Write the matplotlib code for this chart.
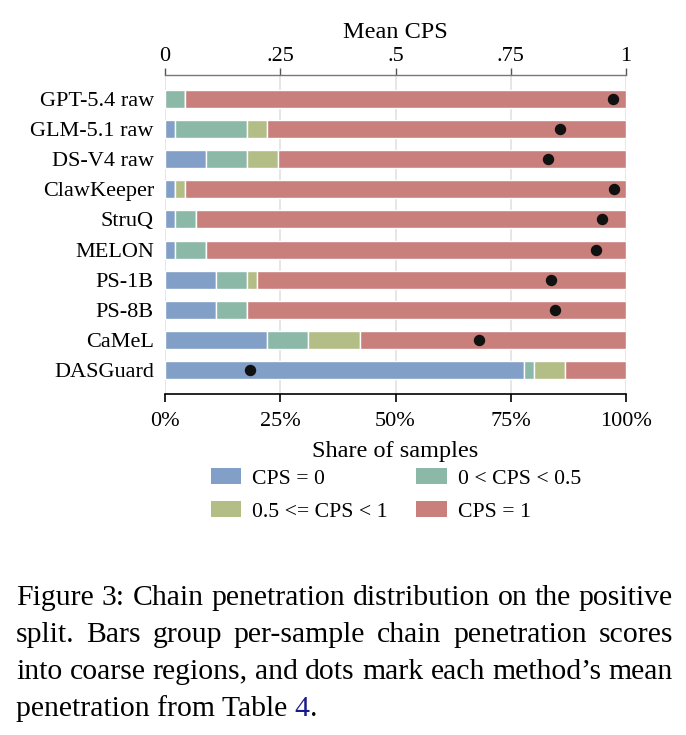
import numpy as np
import matplotlib
matplotlib.use("Agg")
import matplotlib.pyplot as plt
from matplotlib.patches import Patch

plt.rcParams['font.family'] = ['Liberation Serif', 'DejaVu Serif']
plt.rcParams['mathtext.fontset'] = 'stix'

methods = ["GPT-5.4 raw", "GLM-5.1 raw", "DS-V4 raw", "ClawKeeper", "StruQ",
           "MELON", "PS-1B", "PS-8B", "CaMeL", "DASGuard"]
n_samples = 45
cps_zero = [0, 1, 4, 1, 1, 1, 5, 5, 10, 35]
cps_low = [2, 7, 4, 0, 2, 3, 3, 3, 4, 1]
cps_high = [0, 2, 3, 1, 0, 0, 1, 0, 5, 3]
cps_one = [43, 35, 34, 43, 42, 41, 36, 37, 26, 6]
mean_cps = [0.971, 0.857, 0.830, 0.973, 0.949, 0.934, 0.838, 0.845, 0.681, 0.184]

series_labels = ["CPS = 0", "0 < CPS < 0.5", "0.5 <= CPS < 1", "CPS = 1"]
colors = ["#819fc7", "#8cb8a8", "#b3bd86", "#c9807d"]

W, H = 686, 735
AX_TOP, AX_BOT = 75, 394
fig = plt.figure(figsize=(W / 100, H / 100), dpi=100)
ax = fig.add_axes([165 / W, 1 - AX_BOT / H, 461 / W, (AX_BOT - AX_TOP) / H])
ax_h = AX_BOT - AX_TOP

y = np.arange(len(methods))
left = np.zeros(len(methods))
for vals, c in zip([cps_zero, cps_low, cps_high, cps_one], colors):
    frac = np.array(vals) / n_samples
    ax.barh(y, frac, left=left, height=0.6, color=c, edgecolor="white",
            linewidth=1.0, zorder=2)
    left += frac

ax.set_xlim(0, 1)
ax.set_ylim(9.8, -0.8)
ax.set_yticks(y)
ax.set_yticklabels(methods, fontsize=16)
ax.tick_params(axis='y', length=0, pad=8)
ax.set_xticks([0, 0.25, 0.5, 0.75, 1.0])
ax.set_xticklabels(["0%", "25%", "50%", "75%", "100%"], fontsize=16)
ax.tick_params(axis='x', direction='out', length=6, width=1.2, color='black', pad=7)
ax.set_xlabel("Share of samples", fontsize=17.5, va='center')
ax.xaxis.set_label_coords(0.5, -(452 - AX_BOT) / ax_h)
for s in ["left", "right", "top"]:
    ax.spines[s].set_visible(False)
ax.spines["bottom"].set_linewidth(1.2)
ax.grid(axis='x', color='#e6e6e6', linewidth=1.4, zorder=0)
ax.set_axisbelow(True)

ax2 = ax.twiny()
ax2.set_xlim(0, 1)
ax2.scatter(mean_cps, y, s=52, color='#111111', zorder=5)
ax2.set_xticks([0, 0.25, 0.5, 0.75, 1.0])
ax2.set_xticklabels(["0", ".25", ".5", ".75", "1"], fontsize=16)
ax2.tick_params(axis='x', direction='out', length=5, width=1.0, color='#555555', pad=1.5)
ax2.set_xlabel("Mean CPS", fontsize=17.5, va='center')
ax2.xaxis.set_label_coords(0.5, 1 + (AX_TOP - 33) / ax_h)
for s in ["left", "right", "bottom"]:
    ax2.spines[s].set_visible(False)
ax2.spines["top"].set_color('#777777')
ax2.spines["top"].set_linewidth(1.0)

# legend: row-wise order (matplotlib fills columns first)
order = [0, 2, 1, 3]
handles = [Patch(facecolor=colors[i], edgecolor='none') for i in order]
labels = [series_labels[i] for i in order]
fig.legend(handles, labels, ncol=2, frameon=False, fontsize=15.7,
           loc='center', bbox_to_anchor=(396 / W, 1 - 495 / H),
           handlelength=1.4, handleheight=0.75, handletextpad=0.5,
           columnspacing=1.3, labelspacing=0.55)

# caption
cap_lines = [
    "Figure 3: Chain penetration distribution on the positive",
    "split.  Bars group per-sample chain penetration scores",
    "into coarse regions, and dots mark each method\u2019s mean",
]
x0, x1 = 16, 673
line_y = [598, 635, 672, 709]
fig.canvas.draw()
renderer = fig.canvas.get_renderer()
probe = fig.text(0, 0, cap_lines[0], fontsize=20)
nat = probe.get_window_extent(renderer).width
probe.remove()
cap_fs = 20 * (x1 - x0) / nat

for line, yy in zip(cap_lines, line_y):
    words = line.split()
    texts = [fig.text(0, 1 - yy / H, w, fontsize=cap_fs, va='center', ha='left')
             for w in words]
    widths = [t.get_window_extent(renderer).width for t in texts]
    gap = (x1 - x0 - sum(widths)) / (len(words) - 1)
    xx = x0
    for t, wd in zip(texts, widths):
        t.set_x(xx / W)
        xx += wd + gap

parts = [("penetration from Table ", "black"), ("4", "#1a1a8f"), (".", "black")]
xx = x0
for s, c in parts:
    t = fig.text(xx / W, 1 - line_y[3] / H, s, fontsize=cap_fs, va='center',
                 ha='left', color=c)
    xx += t.get_window_extent(renderer).width

fig.savefig("out.png", dpi=100)
